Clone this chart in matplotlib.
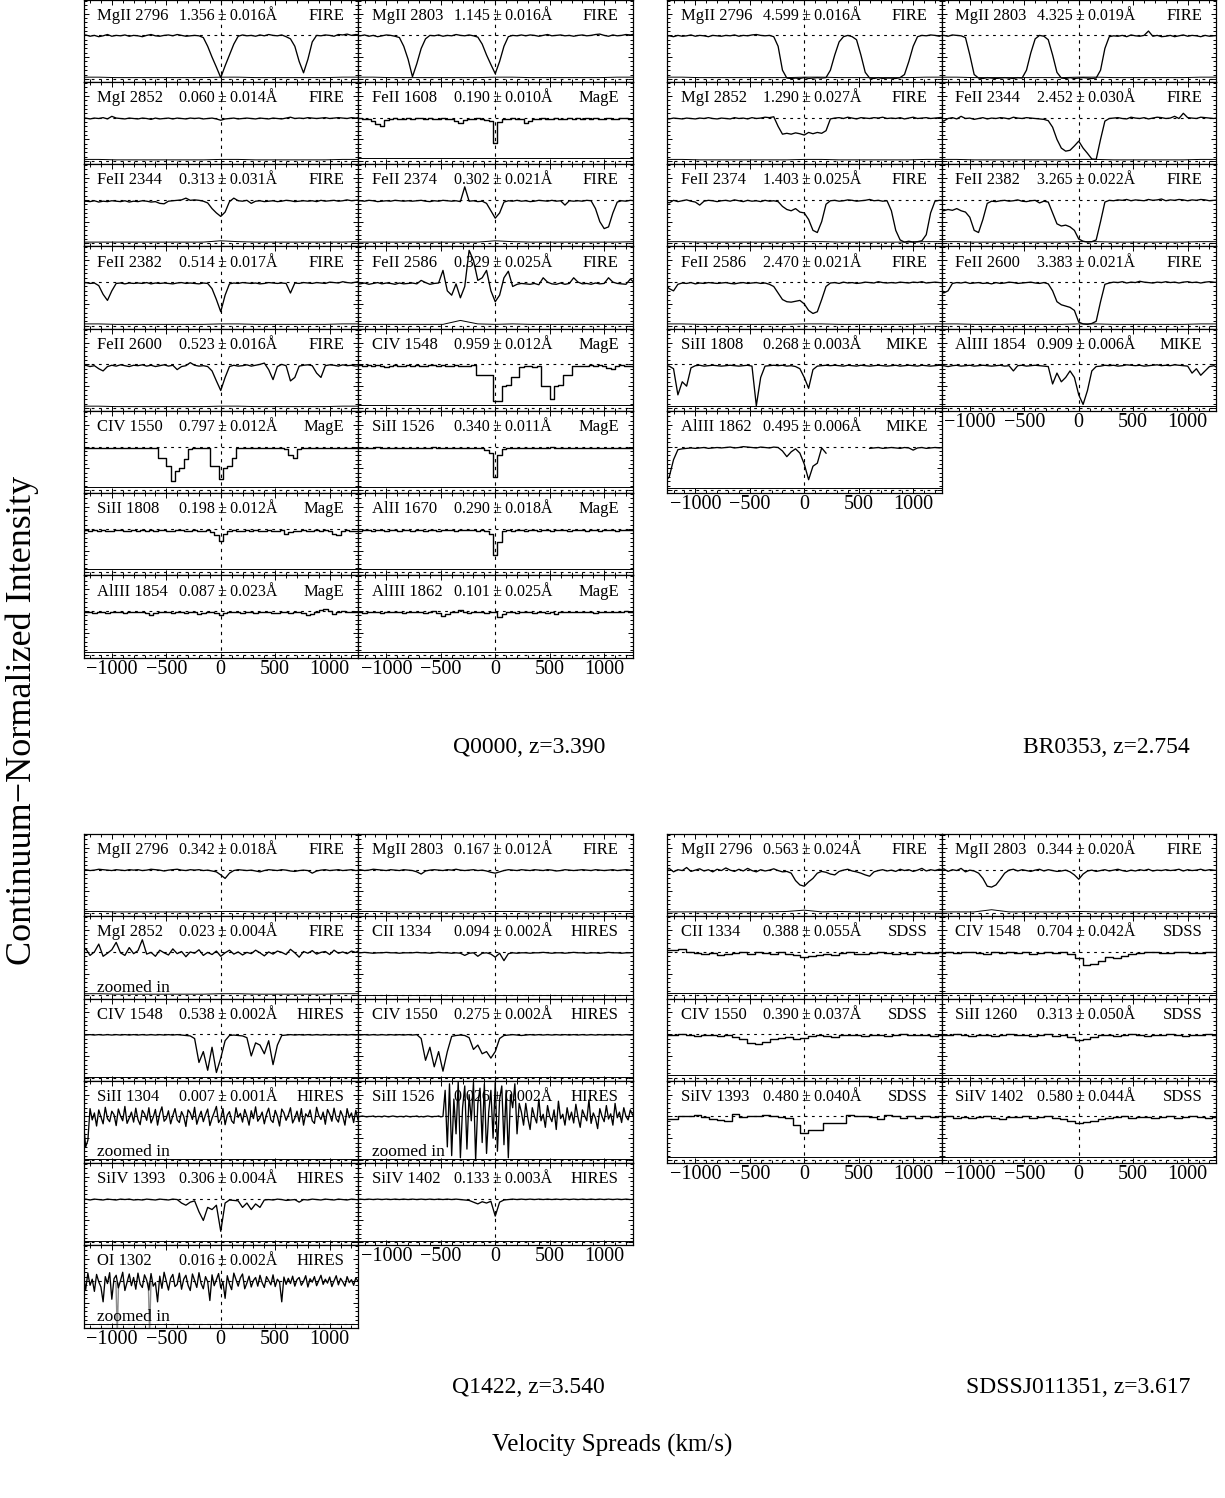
import numpy as np
import matplotlib
matplotlib.use("Agg")
import matplotlib.pyplot as plt
from matplotlib.ticker import MultipleLocator

plt.rcParams['font.family'] = ['Liberation Serif', 'DejaVu Serif']

NA = np.nan

# ---------------------------------------------------------------------------
# Spectra: normalized flux in percent.  Grids start at -1280 km/s;
# 65-point spectra are sampled every 40 km/s, 129-point ones every 20 km/s,
# SDSS spectra start at -1260 km/s every 70 km/s.
# ---------------------------------------------------------------------------

# ---- Q0000, z=3.390 -------------------------------------------------------
q0000_mgii2796 = [99,101,98,100,97,99,102,98,100,99,101,98,100,
                  99,97,100,102,99,98,100,101,99,102,100,98,99,
                  100,99,95,75,50,27,3,30,55,80,98,101,99,
                  100,98,101,99,102,100,99,101,97,92,75,40,14,
                  45,85,100,99,101,100,98,102,101,103,100,102,101]
q0000_mgii2803 = [100,99,101,98,100,97,99,101,100,98,95,75,45,
                  5,35,70,92,100,99,101,98,100,99,102,100,99,
                  101,99,96,80,55,33,12,40,75,97,100,99,101,
                  99,101,100,98,100,102,99,100,101,99,100,98,100,
                  101,99,100,102,103,100,98,101,99,100,102,101,103]
q0000_mgi2852 = [98,99,97,99,98,100,97,103,99,98,97,99,98,
                 97,99,98,96,99,97,98,99,97,99,98,97,99,
                 98,99,97,98,99,97,94,97,98,99,97,98,99,
                 98,97,99,98,97,99,98,97,99,101,98,99,98,
                 100,99,98,99,100,98,99,100,99,98,100,99,101]
q0000_feii1608 = [98,99,97,96,92,85,81,95,98,99,97,98,99,
                  98,100,99,98,99,97,98,99,98,96,93,88,94,
                  97,98,99,97,95,93,42,90,97,98,99,96,97,
                  87,93,97,98,99,98,97,99,98,97,99,98,99,
                  97,99,98,100,97,98,99,97,98,99,100,98,99]
q0000_feii2344 = [95,97,96,98,95,97,96,98,97,96,98,95,97,
                  96,98,97,95,96,92,91,97,98,99,100,104,99,
                  100,99,97,93,80,70,62,72,96,104,98,97,99,
                  92,97,98,96,97,98,96,97,99,98,96,97,98,
                  97,98,96,99,97,98,99,97,98,100,98,99,100]
q0000_feii2374 = [96,98,97,99,98,96,97,98,97,99,98,97,98,
                  97,98,99,97,96,98,97,99,98,97,98,96,130,
                  97,98,96,97,92,75,58,70,95,98,97,99,97,
                  98,96,97,99,98,97,99,97,98,88,98,97,98,
                  97,99,98,80,50,34,38,70,95,98,97,99,98]
q0000_feii2382 = [95,99,97,98,92,72,58,80,97,98,96,98,97,
                  98,97,99,96,98,97,98,97,96,98,99,97,98,
                  97,96,98,97,85,60,32,70,96,98,97,99,98,
                  97,98,96,97,99,98,97,98,97,75,98,97,99,
                  98,97,99,98,97,100,99,98,101,99,98,100,102]
q0000_feii2586 = [97,96,98,95,97,99,96,98,97,95,98,96,97,
                  98,96,104,99,95,97,98,127,80,70,96,64,90,
                  173,150,104,110,127,80,55,70,110,125,90,95,97,
                  96,95,97,94,110,100,96,95,98,95,97,110,100,
                  96,97,95,98,96,97,110,100,97,96,95,107,98]
q0000_feii2600 = [96,98,95,97,90,85,95,98,96,99,97,95,98,
                  97,99,96,98,95,97,99,96,98,88,95,97,104,
                  98,96,97,95,85,62,40,70,95,98,96,97,99,
                  96,98,100,103,88,65,95,100,97,62,70,96,98,
                  99,97,80,70,97,99,98,96,99,97,98,96,97]
q0000_civ1548 = [97,98,96,99,97,98,96,93,97,98,96,97,98,
                 97,98,96,97,98,99,97,98,96,97,98,97,96,
                 97,98,75,75,76,75,15,15,50,52,70,70,95,
                 97,96,95,96,50,50,20,50,52,75,75,96,97,
                 97,96,98,97,98,97,92,90,97,98,96,97,95]
q0000_civ1550 = [97,98,96,98,97,96,98,97,96,98,97,96,97,
                 98,96,97,98,96,75,75,55,20,45,50,72,95,
                 97,96,97,96,55,55,25,52,55,75,96,97,98,
                 96,98,97,96,98,97,96,97,95,80,75,94,97,
                 98,96,97,98,96,97,98,96,97,98,96,97,98]
q0000_siii1526 = [97,98,96,98,97,99,96,98,97,96,98,97,96,
                  98,97,96,98,97,99,96,97,98,96,97,98,97,
                  96,97,98,96,93,85,30,80,95,97,96,98,97,
                  96,98,97,96,98,97,99,96,97,98,96,97,98,
                  97,96,98,97,96,98,97,96,98,97,96,98,97]
q0000_siii1808 = [96,97,95,98,96,97,95,96,98,97,95,96,97,
                  96,98,95,97,96,98,97,95,96,98,97,96,95,
                  97,96,95,97,93,85,72,88,96,97,95,96,97,
                  96,97,95,96,97,96,95,97,88,92,96,95,97,
                  96,95,97,96,97,95,88,85,96,97,95,96,97]
q0000_alii1670 = [97,96,98,97,96,98,97,95,97,98,96,97,98,
                  96,97,98,96,97,98,96,97,98,97,96,98,97,
                  97,98,96,97,95,88,40,70,95,97,96,98,97,
                  96,97,98,96,97,98,96,97,98,97,96,98,97,
                  98,96,97,98,96,97,98,97,96,98,97,98,99]
q0000_aliii1854 = [98,97,99,96,97,98,96,99,97,98,96,97,99,
                   97,98,96,90,95,98,99,97,96,98,97,96,98,
                   97,94,96,98,97,96,91,95,97,98,99,96,97,
                   98,96,97,99,98,96,95,97,99,96,98,97,96,
                   91,94,97,102,105,100,94,98,101,99,97,98,99]
q0000_aliii1862 = [97,98,96,98,97,99,96,98,99,97,98,96,97,
                   98,97,99,96,98,100,95,88,94,97,99,102,98,
                   96,97,99,98,96,97,98,86,93,97,98,96,99,
                   97,98,96,97,99,96,98,94,97,99,98,97,98,
                   99,97,98,96,99,98,97,98,99,97,100,98,99]

# ---- BR0353, z=2.754 ------------------------------------------------------
br0353_mgii2796 = [98,99,97,100,98,99,101,98,100,99,97,100,99,
                   98,100,99,101,98,100,99,101,102,100,99,100,97,
                   75,20,2,1,2,1,3,1,2,3,2,3,20,
                   55,85,97,100,97,90,55,15,2,1,3,1,2,
                   2,1,3,10,40,75,97,100,99,101,100,98,101]
br0353_mgii2803 = [99,100,98,101,100,99,95,55,10,2,1,3,2,
                   1,2,3,2,1,3,2,20,60,92,100,98,90,
                   55,15,2,1,3,1,2,3,2,1,2,20,70,
                   97,99,98,100,97,101,99,98,100,110,98,100,97,
                   98,100,97,99,101,98,100,99,97,100,98,99,100]
br0353_mgi2852 = [98,97,99,98,97,99,98,97,99,98,100,98,97,
                  99,98,97,100,98,99,97,100,98,99,101,100,102,
                  80,62,64,62,65,63,60,66,63,66,64,70,97,
                  99,100,98,101,99,97,100,99,98,100,99,101,98,
                  99,98,100,97,99,101,98,99,100,98,99,100,101]
br0353_feii2344 = [96,92,98,100,97,103,98,99,96,98,100,97,99,
                   98,100,99,97,101,99,98,100,99,98,97,96,93,
                   78,50,30,23,25,35,46,30,18,5,4,50,92,
                   98,99,100,98,97,101,99,98,100,97,99,101,100,
                   98,99,103,98,110,100,99,98,101,100,99,98,100]
br0353_feii2374 = [97,93,99,96,98,100,97,95,88,97,99,98,96,
                   98,99,97,100,98,96,99,97,98,96,99,97,98,
                   96,85,78,75,80,72,70,55,30,25,50,90,98,
                   99,97,98,100,99,97,98,99,101,98,99,97,98,
                   75,30,8,3,5,3,4,6,20,70,97,99,98]
br0353_feii2382 = [80,75,78,76,80,75,72,60,30,25,55,92,97,
                   96,98,99,97,98,100,97,96,98,99,93,97,95,
                   70,45,40,42,38,30,10,5,3,4,8,50,95,
                   99,98,100,99,101,98,100,99,98,101,99,100,102,
                   98,100,99,101,100,98,100,99,101,100,98,99,100]
br0353_feii2586 = [97,85,80,95,98,97,99,96,98,97,99,98,97,
                   98,99,97,96,98,99,97,98,99,97,98,95,90,
                   75,60,55,54,56,58,50,35,28,32,60,90,98,
                   99,97,100,98,99,97,98,100,99,98,101,99,98,
                   99,98,100,99,98,100,99,101,98,99,100,99,98]
br0353_feii2600 = [96,75,80,97,99,98,100,97,98,99,97,98,96,
                   99,97,98,100,99,97,98,99,100,98,97,99,96,
                   80,55,48,45,42,35,8,4,3,5,10,55,95,
                   98,100,99,101,98,100,99,102,100,99,98,100,99,
                   101,99,100,98,100,101,99,100,98,100,101,100,99]
br0353_siii1808 = [97,96,90,30,60,50,92,97,98,96,97,98,97,
                   96,97,98,97,96,97,98,96,5,70,96,97,98,
                   97,98,96,97,95,90,70,45,88,96,97,98,97,
                   98,97,96,98,97,96,98,97,96,97,98,97,96,
                   97,98,96,97,98,97,96,98,97,96,97,98,97]
br0353_aliii1854 = [96,97,95,97,98,96,97,98,96,97,98,97,96,
                    97,98,96,97,85,97,98,96,97,98,97,96,95,
                    55,80,60,70,85,70,30,8,40,85,95,96,98,
                    97,98,96,97,99,98,97,98,96,97,98,99,97,
                    98,97,99,98,97,96,80,90,75,85,95,97,92]
br0353_aliii1862 = [20,30,70,93,95,96,97,96,97,98,96,97,98,
                    97,98,99,97,98,100,99,98,97,99,98,97,99,
                    98,90,77,88,95,85,60,24,55,62,97,85,NA,
                    NA,NA,NA,NA,NA,NA,NA,NA,96,97,98,96,97,
                    98,97,96,98,97,92,97,98,96,97,98,97,98]

# ---- Q1422, z=3.540 -------------------------------------------------------
q1422_mgii2796 = [99,100,98,99,101,100,99,98,100,99,98,100,99,
                  100,98,99,101,100,99,97,99,100,101,99,98,100,
                  99,100,98,99,97,95,88,80,92,98,100,99,98,
                  99,97,95,98,100,99,98,100,99,97,96,98,99,
                  98,92,97,99,100,98,99,100,98,99,100,98,99]
q1422_mgii2803 = [99,100,98,99,101,100,99,98,100,99,98,100,99,
                  98,95,90,97,99,100,99,98,100,99,101,99,98,
                  99,100,98,99,97,94,92,95,98,100,99,98,100,
                  99,98,100,99,98,100,99,97,98,100,99,98,99,
                  100,99,98,100,99,98,99,100,98,99,100,99,98]
q1422_mgi2852 = [95,108,92,100,118,90,97,105,122,98,92,110,96,
                 103,128,95,99,90,104,98,93,107,96,101,89,100,
                 97,105,92,99,94,102,90,98,104,95,100,93,99,
                 96,104,98,91,100,95,102,99,94,106,98,88,101,
                 97,103,95,99,101,94,104,97,100,96,102,99,105]
q1422_cii1334 = [98,98,99,98,97,98,98,99,98,98,97,98,98,
                 98,99,98,98,97,98,99,98,98,97,98,97,92,
                 97,98,90,97,98,95,88,97,80,96,98,97,98,
                 98,97,98,98,99,98,97,98,98,97,98,99,98,
                 98,97,98,98,97,98,99,98,98,97,98,98,99]
q1422_civ1548 = [99,98,99,98,99,98,99,98,99,98,99,98,99,
                 98,99,98,99,98,99,98,99,98,99,98,97,96,
                 90,35,60,17,70,12,45,85,97,98,97,96,92,
                 50,80,75,55,85,30,75,97,98,99,98,99,98,
                 99,98,99,98,99,98,99,98,99,98,99,98,99]
q1422_civ1550 = [99,98,99,98,99,98,99,98,99,98,99,98,99,
                 98,99,90,40,70,25,60,15,60,95,97,98,97,
                 92,65,75,55,60,45,60,90,97,98,99,98,97,
                 98,99,98,99,98,99,98,99,98,99,98,99,98,
                 99,98,99,98,99,98,99,98,99,98,99,98,99]
q1422_siii1304 = [104,85,30,45,118,92,108,78,115,99,83,121,95,88,112,104,
                  79,117,101,90,123,84,96,110,87,119,93,81,114,106,91,120,
                  85,98,116,80,107,122,89,95,113,83,102,118,92,86,111,100,
                  77,115,108,93,121,82,99,112,88,104,117,79,96,109,123,86,
                  94,118,81,103,111,90,84,120,98,107,87,116,101,80,113,95,
                  122,89,97,110,83,105,119,92,86,114,100,78,117,108,91,103,
                  120,85,96,112,88,118,80,106,99,115,90,84,121,102,93,110,
                  82,116,105,89,119,95,87,113,101,80,118,97,108,86,114,92,
                  100]
q1422_siii1526 = [100,99,100,101,100,99,100,100,101,99,100,100,99,101,100,99,
                  100,101,100,99,100,100,99,101,100,99,100,100,101,99,100,99,
                  100,101,100,99,100,100,101,99,100,160,30,175,10,140,60,180,
                  5,120,170,25,150,90,178,0,130,165,40,175,15,110,160,50,
                  178,20,140,170,35,160,5,150,120,175,60,130,110,80,130,95,
                  70,120,100,85,140,90,105,75,125,100,88,115,70,135,95,105,
                  80,120,92,110,85,128,98,75,115,102,90,138,84,108,96,72,
                  118,100,88,125,94,106,80,130,97,110,86,120,100,92,115,104,
                  98]
q1422_siiv1393 = [98,99,97,99,98,97,99,98,97,99,98,99,97,
                  98,97,99,98,97,99,98,97,99,98,90,85,92,
                  95,70,50,80,75,85,25,90,97,96,95,80,90,
                  75,88,80,97,98,97,99,98,96,97,98,92,98,
                  97,99,98,97,99,98,97,99,98,97,99,98,97]
q1422_siiv1402 = [98,99,98,99,98,99,98,99,98,99,98,99,98,
                  99,98,99,98,99,98,99,98,99,98,99,98,97,
                  96,92,88,93,90,94,60,92,97,98,99,98,99,
                  98,99,98,99,98,99,98,99,98,99,98,99,98,
                  99,98,99,98,99,98,99,98,99,98,99,98,99]
q1422_oi1302 = [95,112,80,118,90,104,76,115,98,86,52,110,94,119,58,105,
                113,84,101,120,78,97,116,89,108,81,118,93,85,114,102,79,
                117,88,96,52,111,83,120,99,79,106,115,87,92,118,81,104,
                113,90,78,116,101,85,119,94,82,110,98,55,114,89,103,117,
                84,98,60,112,93,80,118,103,88,107,116,82,95,111,86,101,
                108,88,113,96,85,110,101,91,114,87,104,97,52,109,92,106,
                94,111,88,103,108,90,99,112,86,105,97,110,89,101,113,92,
                104,95,109,87,100,112,91,106,98,88,110,96,103,90,107,99,
                100]
# contaminating features drawn in grey
q1422_oi1302_grey_v = [-962, -950, -938, NA, -665, -653, -641]
q1422_oi1302_grey_f = [95, -20, 95, NA, 95, -20, 95]

# ---- SDSSJ011351, z=3.617 -------------------------------------------------
sdss_mgii2796 = [97,103,95,100,98,105,96,99,102,97,100,95,101,
                 98,104,99,96,101,97,103,98,95,100,97,99,102,
                 98,95,96,92,75,65,62,72,80,92,96,94,90,
                 88,96,99,101,97,95,92,88,85,95,98,100,97,
                 99,96,101,98,100,96,99,103,97,100,98,101,99]
sdss_mgii2803 = [97,102,96,100,98,103,95,99,97,92,80,62,60,
                 65,78,92,99,101,97,100,98,96,99,101,97,100,
                 98,96,97,99,95,88,78,90,97,99,96,98,100,
                 97,99,101,98,96,99,97,100,98,101,97,99,98,
                 100,98,99,101,97,100,98,99,101,98,100,99,98]
sdss_cii1334 = [104,104,106,100,98,95,97,93,95,97,99,96,101,98,96,99,95,92,88,
                90,93,96,94,97,99,95,96,98,100,97,95,98,96,99,97,98,100]
sdss_civ1548 = [98,100,97,99,101,98,96,99,97,100,98,99,96,98,100,97,99,95,85,
                70,72,80,88,85,90,95,97,99,100,98,97,99,101,98,97,99,100]
sdss_civ1550 = [97,99,100,98,96,99,97,95,98,93,90,80,78,82,88,92,94,90,92,
                95,97,96,94,97,99,98,96,99,97,95,98,100,97,99,98,96,99]
sdss_siii1260 = [99,97,100,98,96,99,97,95,98,100,97,99,96,98,100,95,97,93,86,
                 90,94,97,99,96,98,100,97,95,99,97,101,98,96,99,97,100,98]
sdss_siiv1393 = [95,95,100,100,104,99,93,91,90,106,99,102,101,104,100,99,96,81,61,
                 68,68,85,85,85,103,102,101,98,93,104,102,97,102,96,100,98,101]
sdss_siiv1402 = [98,100,97,99,96,98,100,97,95,98,99,101,97,98,100,96,93,90,86,
                 88,90,93,96,98,100,97,99,98,96,99,101,97,98,100,99,97,98]

# ---- error spectra (percent), sampled every 160 km/s from -1280 -----------
err_fire = [4,4,3,3,3,3,3,3,4,4,3,3,3,3,3,4,4]
err_fire_bump = [3,3,3,3,3,3,3,3,6,4,3,3,3,3,3,3,4]
err_feii2586 = [3,3,3,3,3,3,12,4,3,4,3,3,3,3,3,3,3]
err_mage = [7,7,7,7,7,7,7,7,7,7,7,7,7,7,7,7,7]
err_mike = [5,5,5,5,5,5,5,5,5,5,5,5,5,5,5,5,5]
err_hires = [2,2,2,2,2,2,2,2,2,2,2,2,2,2,2,2,2]
err_sdss = [6,6,6,6,6,6,6,6,6,6,6,6,6,6,6,6,6]
err_sdss_mgii2796 = [3,3,3,3,3,3,3,4,7,3,4,3,3,3,3,3,3]
err_sdss_mgii2803 = [3,3,3,8,3,3,3,3,4,3,3,3,3,3,3,3,3]

# ---- panel labels ---------------------------------------------------------
q0000_left = [("MgII 2796", "1.356", "0.016", "FIRE"), ("MgI 2852", "0.060", "0.014", "FIRE"),
              ("FeII 2344", "0.313", "0.031", "FIRE"), ("FeII 2382", "0.514", "0.017", "FIRE"),
              ("FeII 2600", "0.523", "0.016", "FIRE"), ("CIV 1550", "0.797", "0.012", "MagE"),
              ("SiII 1808", "0.198", "0.012", "MagE"), ("AlIII 1854", "0.087", "0.023", "MagE")]
q0000_right = [("MgII 2803", "1.145", "0.016", "FIRE"), ("FeII 1608", "0.190", "0.010", "MagE"),
               ("FeII 2374", "0.302", "0.021", "FIRE"), ("FeII 2586", "0.329", "0.025", "FIRE"),
               ("CIV 1548", "0.959", "0.012", "MagE"), ("SiII 1526", "0.340", "0.011", "MagE"),
               ("AlII 1670", "0.290", "0.018", "MagE"), ("AlIII 1862", "0.101", "0.025", "MagE")]
br0353_left = [("MgII 2796", "4.599", "0.016", "FIRE"), ("MgI 2852", "1.290", "0.027", "FIRE"),
               ("FeII 2374", "1.403", "0.025", "FIRE"), ("FeII 2586", "2.470", "0.021", "FIRE"),
               ("SiII 1808", "0.268", "0.003", "MIKE"), ("AlIII 1862", "0.495", "0.006", "MIKE")]
br0353_right = [("MgII 2803", "4.325", "0.019", "FIRE"), ("FeII 2344", "2.452", "0.030", "FIRE"),
                ("FeII 2382", "3.265", "0.022", "FIRE"), ("FeII 2600", "3.383", "0.021", "FIRE"),
                ("AlIII 1854", "0.909", "0.006", "MIKE")]
q1422_left = [("MgII 2796", "0.342", "0.018", "FIRE"), ("MgI 2852", "0.023", "0.004", "FIRE"),
              ("CIV 1548", "0.538", "0.002", "HIRES"), ("SiII 1304", "0.007", "0.001", "HIRES"),
              ("SiIV 1393", "0.306", "0.004", "HIRES"), ("OI 1302", "0.016", "0.002", "HIRES")]
q1422_right = [("MgII 2803", "0.167", "0.012", "FIRE"), ("CII 1334", "0.094", "0.002", "HIRES"),
               ("CIV 1550", "0.275", "0.002", "HIRES"), ("SiII 1526", "0.026", "0.002", "HIRES"),
               ("SiIV 1402", "0.133", "0.003", "HIRES")]
sdss_left = [("MgII 2796", "0.563", "0.024", "FIRE"), ("CII 1334", "0.388", "0.055", "SDSS"),
             ("CIV 1550", "0.390", "0.037", "SDSS"), ("SiIV 1393", "0.480", "0.040", "SDSS")]
sdss_right = [("MgII 2803", "0.344", "0.020", "FIRE"), ("CIV 1548", "0.704", "0.042", "SDSS"),
              ("SiII 1260", "0.313", "0.050", "SDSS"), ("SiIV 1402", "0.580", "0.044", "SDSS")]

quasar_names = ["Q0000, z=3.390", "BR0353, z=2.754", "Q1422, z=3.540", "SDSSJ011351, z=3.617"]

# ---------------------------------------------------------------------------
W, H = 1225, 1498
fig = plt.figure(figsize=(W / 100, H / 100), dpi=100)

COL_W = 274.5
ROW_H = 82.25
XLIM = (-1260, 1260)
YLIM = (-0.07, 1.82)
LABEL_SIZE = 12.0
STEPPED = ("MagE", "SDSS")   # binned spectra drawn as histograms


def grid_for(kind, n):
    if kind == "SDSS":
        return -1260 + 70 * np.arange(n)
    step = 20 if n > 100 else 40
    return -1280 + step * np.arange(n)


def draw_panel(ax, label, flux, err, bottom, zoomed=False, grey=None):
    ion, ew, ewerr, inst = label
    ax.set_xlim(*XLIM)
    ax.set_ylim(*YLIM)
    dash = (0, (2.5, 4))
    ax.axhline(1.0, color="k", lw=0.8, ls=dash, zorder=1)
    ax.axhline(0.0, color="k", lw=0.8, ls=dash, zorder=1)
    ax.axvline(0.0, color="k", lw=0.8, ls=(0, (3, 4)), zorder=1)

    f = np.asarray(flux, dtype=float) / 100.0
    v = grid_for(inst, len(f))
    if inst in STEPPED:
        ax.plot(v, f, color="k", lw=1.0, drawstyle="steps-mid", zorder=3)
    else:
        ax.plot(v, f, color="k", lw=0.95, zorder=3)
    if grey is not None:
        ax.plot(grey[0], np.asarray(grey[1], dtype=float) / 100.0,
                color="0.55", lw=1.0, zorder=2)
    e = np.asarray(err, dtype=float) / 100.0
    ax.plot(-1280 + 160 * np.arange(len(e)), e, color="k", lw=0.7, zorder=2)

    tr = ax.get_xaxis_transform()
    ax.text(-1135, 0.755, ion, transform=tr, fontsize=LABEL_SIZE, ha="left", va="baseline")
    ax.text(-380, 0.755, f"{ew}\u2009\u00b1\u2009{ewerr}\u00c5", transform=tr,
            fontsize=11.5, ha="left", va="baseline")
    ax.text(1135, 0.755, inst, transform=tr, fontsize=LABEL_SIZE, ha="right", va="baseline")
    if zoomed:
        ax.text(-1135, 0.085, "zoomed in", transform=tr, fontsize=12.5,
                ha="left", va="baseline")

    ax.xaxis.set_major_locator(MultipleLocator(500))
    ax.xaxis.set_minor_locator(MultipleLocator(100))
    ax.yaxis.set_major_locator(MultipleLocator(0.5))
    ax.yaxis.set_minor_locator(MultipleLocator(0.1))
    ax.tick_params(which="both", direction="in", top=True, right=True,
                   labelleft=False, labelbottom=bottom, width=0.7)
    ax.tick_params(which="major", length=3.8, labelsize=14.5, pad=1.5)
    ax.tick_params(which="minor", length=1.9)
    for s in ax.spines.values():
        s.set_linewidth(0.9)


def add_axes(x0, top):
    return fig.add_axes([x0 / W, 1 - (top + ROW_H) / H, COL_W / W, ROW_H / H])


def draw_column(x0, top, labels, spectra, errs, zoomed=(), greys=None):
    n = len(labels)
    for i in range(n):
        ax = add_axes(x0, top + i * ROW_H)
        grey = greys.get(i) if greys else None
        draw_panel(ax, labels[i], spectra[i], errs[i], bottom=(i == n - 1),
                   zoomed=(i in zoomed), grey=grey)


TOP_A = -0.3
TOP_B = 834.0
X_L1, X_L2 = 83.5, 83.5 + COL_W
X_R1, X_R2 = 667.0, 667.0 + COL_W

# Q0000
draw_column(X_L1, TOP_A, q0000_left,
            [q0000_mgii2796, q0000_mgi2852, q0000_feii2344, q0000_feii2382,
             q0000_feii2600, q0000_civ1550, q0000_siii1808, q0000_aliii1854],
            [err_fire, err_fire, err_fire_bump, err_fire, err_fire,
             err_mage, err_mage, err_mage])
draw_column(X_L2, TOP_A, q0000_right,
            [q0000_mgii2803, q0000_feii1608, q0000_feii2374, q0000_feii2586,
             q0000_civ1548, q0000_siii1526, q0000_alii1670, q0000_aliii1862],
            [err_fire, err_mage, err_fire_bump, err_feii2586, err_mage,
             err_mage, err_mage, err_mage])
# BR0353
draw_column(X_R1, TOP_A, br0353_left,
            [br0353_mgii2796, br0353_mgi2852, br0353_feii2374, br0353_feii2586,
             br0353_siii1808, br0353_aliii1862],
            [err_fire, err_fire, err_fire, err_fire, err_mike, err_mike])
draw_column(X_R2, TOP_A, br0353_right,
            [br0353_mgii2803, br0353_feii2344, br0353_feii2382, br0353_feii2600,
             br0353_aliii1854],
            [err_fire, err_fire, err_fire, err_fire, err_mike])
# Q1422
draw_column(X_L1, TOP_B, q1422_left,
            [q1422_mgii2796, q1422_mgi2852, q1422_civ1548, q1422_siii1304,
             q1422_siiv1393, q1422_oi1302],
            [err_fire, err_fire, err_hires, err_hires, err_hires, err_hires],
            zoomed=(1, 3, 5),
            greys={5: (q1422_oi1302_grey_v, q1422_oi1302_grey_f)})
draw_column(X_L2, TOP_B, q1422_right,
            [q1422_mgii2803, q1422_cii1334, q1422_civ1550, q1422_siii1526,
             q1422_siiv1402],
            [err_fire, err_hires, err_hires, err_hires, err_hires],
            zoomed=(3,))
# SDSSJ011351
draw_column(X_R1, TOP_B, sdss_left,
            [sdss_mgii2796, sdss_cii1334, sdss_civ1550, sdss_siiv1393],
            [err_sdss_mgii2796, err_sdss, err_sdss, err_sdss])
draw_column(X_R2, TOP_B, sdss_right,
            [sdss_mgii2803, sdss_civ1548, sdss_siii1260, sdss_siiv1402],
            [err_sdss_mgii2803, err_sdss, err_sdss, err_sdss])

# quasar names
for name, (x, y) in zip(quasar_names, [(605, 753), (1190, 753), (605, 1393), (1190, 1393)]):
    fig.text(x / W, 1 - y / H, name, fontsize=17, ha="right", va="baseline")

fig.text(612 / W, 1 - 1452 / H, "Velocity Spreads (km/s)", fontsize=18,
         ha="center", va="baseline")
fig.text(22 / W, 1 - 720 / H, "Continuum\u2212Normalized Intensity", fontsize=26,
         ha="center", va="center", rotation=90)

fig.savefig("out.png", dpi=100)
